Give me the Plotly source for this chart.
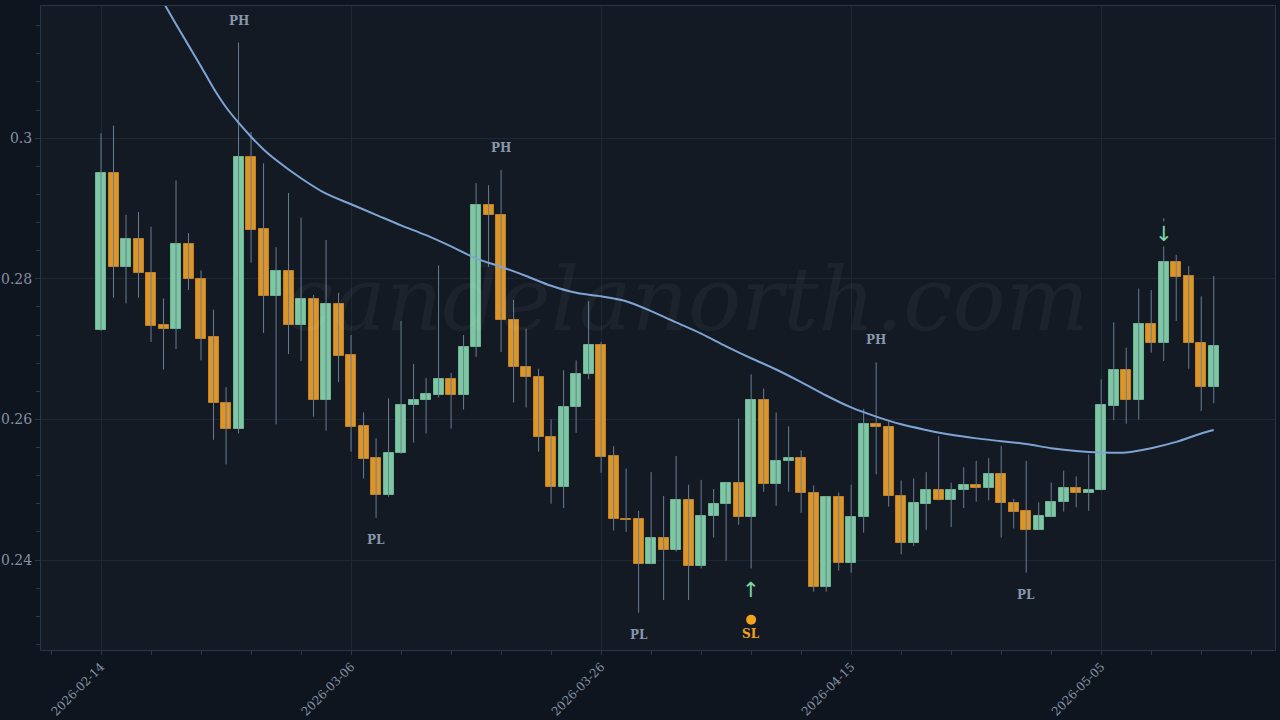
import pandas as pd
import plotly.graph_objects as go

start_date = "2026-02-14"
n_days = 90

opens = [0.2727, 0.2951, 0.2817, 0.2856, 0.2808, 0.2734, 0.2729, 0.2849, 0.2800, 0.2717,
         0.2623, 0.2587, 0.2973, 0.2871, 0.2776, 0.2811, 0.2734, 0.2771, 0.2627, 0.2764,
         0.2691, 0.2590, 0.2545, 0.2492, 0.2552, 0.2621, 0.2627, 0.2635, 0.2658, 0.2635,
         0.2703, 0.2905, 0.2891, 0.2742, 0.2675, 0.2661, 0.2575, 0.2504, 0.2618, 0.2664,
         0.2706, 0.2548, 0.2459, 0.2458, 0.2395, 0.2431, 0.2414, 0.2485, 0.2392, 0.2463,
         0.2479, 0.2509, 0.2461, 0.2627, 0.2508, 0.2541, 0.2545, 0.2496, 0.2361, 0.2489,
         0.2396, 0.2461, 0.2593, 0.2589, 0.2491, 0.2424, 0.2480, 0.2499, 0.2485, 0.2499,
         0.2506, 0.2503, 0.2523, 0.2481, 0.2470, 0.2443, 0.2461, 0.2482, 0.2503, 0.2495,
         0.2499, 0.2619, 0.2670, 0.2627, 0.2736, 0.2708, 0.2824, 0.2804, 0.2709, 0.2646]
highs = [0.3007, 0.3018, 0.2891, 0.2895, 0.2874, 0.2772, 0.2940, 0.2865, 0.2812, 0.2756,
         0.2646, 0.3136, 0.3009, 0.2964, 0.2845, 0.2922, 0.2887, 0.2777, 0.2855, 0.2780,
         0.2720, 0.2610, 0.2573, 0.2630, 0.2740, 0.2679, 0.2659, 0.2819, 0.2666, 0.2720,
         0.2936, 0.2933, 0.2955, 0.2770, 0.2729, 0.2672, 0.2600, 0.2670, 0.2684, 0.2768,
         0.2710, 0.2562, 0.2530, 0.2470, 0.2525, 0.2491, 0.2548, 0.2507, 0.2514, 0.2501,
         0.2510, 0.2601, 0.2664, 0.2644, 0.2610, 0.2590, 0.2556, 0.2506, 0.2491, 0.2496,
         0.2507, 0.2615, 0.2681, 0.2597, 0.2513, 0.2516, 0.2525, 0.2576, 0.2510, 0.2532,
         0.2541, 0.2545, 0.2562, 0.2487, 0.2541, 0.2482, 0.2510, 0.2527, 0.2519, 0.2550,
         0.2657, 0.2738, 0.2702, 0.2786, 0.2784, 0.2886, 0.2834, 0.2818, 0.2775, 0.2804]
lows = [0.2726, 0.2773, 0.2765, 0.2773, 0.2710, 0.2671, 0.2700, 0.2784, 0.2684, 0.2571,
        0.2536, 0.2580, 0.2823, 0.2723, 0.2593, 0.2693, 0.2683, 0.2604, 0.2584, 0.2653,
        0.2554, 0.2516, 0.2460, 0.2490, 0.2551, 0.2567, 0.2580, 0.2631, 0.2587, 0.2614,
        0.2689, 0.2817, 0.2696, 0.2624, 0.2617, 0.2554, 0.2480, 0.2474, 0.2581, 0.2657,
        0.2524, 0.2442, 0.2440, 0.2325, 0.2394, 0.2343, 0.2412, 0.2343, 0.2388, 0.2432,
        0.2399, 0.2450, 0.2388, 0.2497, 0.2477, 0.2497, 0.2467, 0.2355, 0.2355, 0.2385,
        0.2382, 0.2439, 0.2522, 0.2476, 0.2408, 0.2420, 0.2443, 0.2485, 0.2447, 0.2474,
        0.2483, 0.2485, 0.2432, 0.2445, 0.2382, 0.2443, 0.2461, 0.2469, 0.2475, 0.2470,
        0.2499, 0.2599, 0.2594, 0.2600, 0.2695, 0.2683, 0.2740, 0.2672, 0.2612, 0.2623]
closes = [0.2951, 0.2817, 0.2856, 0.2808, 0.2733, 0.2729, 0.2849, 0.2799, 0.2715, 0.2623,
          0.2587, 0.2973, 0.2870, 0.2776, 0.2811, 0.2734, 0.2771, 0.2627, 0.2764, 0.2690,
          0.2589, 0.2544, 0.2492, 0.2552, 0.2621, 0.2627, 0.2636, 0.2658, 0.2635, 0.2703,
          0.2905, 0.2891, 0.2742, 0.2675, 0.2661, 0.2575, 0.2504, 0.2618, 0.2664, 0.2706,
          0.2547, 0.2458, 0.2457, 0.2395, 0.2431, 0.2414, 0.2485, 0.2392, 0.2463, 0.2480,
          0.2509, 0.2461, 0.2627, 0.2508, 0.2541, 0.2545, 0.2496, 0.2361, 0.2489, 0.2396,
          0.2461, 0.2593, 0.2589, 0.2491, 0.2424, 0.2481, 0.2499, 0.2485, 0.2500, 0.2506,
          0.2503, 0.2523, 0.2481, 0.2469, 0.2443, 0.2462, 0.2483, 0.2503, 0.2495, 0.2499,
          0.2620, 0.2670, 0.2627, 0.2736, 0.2708, 0.2824, 0.2803, 0.2708, 0.2646, 0.2705]

# moving average
ma_index = [4, 5, 6, 7, 8, 9, 10, 11, 12, 13, 14, 16, 18, 20, 22, 24, 26, 28, 30, 32, 34, 36,
            38, 40, 42, 44, 46, 48, 50, 52, 54, 56, 58, 60, 62, 64, 66, 68, 70, 72, 74, 76,
            78, 80, 82, 84, 86, 88, 89]
ma_values = [0.3225, 0.3193, 0.3162, 0.3132, 0.3102, 0.3071, 0.3044, 0.3022, 0.3002, 0.2984,
             0.2969, 0.2943, 0.2921, 0.2906, 0.2891, 0.2876, 0.2862, 0.2846, 0.2829, 0.2817,
             0.2804, 0.2790, 0.2780, 0.2775, 0.2768, 0.2754, 0.2738, 0.2722, 0.2704, 0.2687,
             0.2671, 0.2653, 0.2634, 0.2617, 0.2604, 0.2593, 0.2585, 0.2578, 0.2573, 0.2569,
             0.2565, 0.2559, 0.2555, 0.2553, 0.2553, 0.2559, 0.2568, 0.2580, 0.2585]

ph_index = [11, 32, 62]
pl_index = [22, 43, 74]
buy_index = 52
sell_index = 85
sl_value = 0.2315

# ---- styling
PAPER = "#0f151e"
PLOT = "#131a24"
GREEN = "#7cc8a3"
GREEN_EDGE = "#6db491"
ORANGE = "#de9527"
ORANGE_EDGE = "#c28223"
WICK = "#6a7d92"
GRID = "#1c2834"
AXIS = "#28364a"
TICKC = "#8391a4"
LABEL = "#8898ad"
FONT = "DejaVu Serif"

dates = pd.date_range(start_date, periods=n_days, freq="D")
day_ms = 86400000

bases = [min(o, c) for o, c in zip(opens, closes)]
heights = [max(abs(c - o), 0.00015) for o, c in zip(opens, closes)]
up = [c >= o for o, c in zip(opens, closes)]
fill = [GREEN if u else ORANGE for u in up]
edge = [GREEN_EDGE if u else ORANGE_EDGE for u in up]

wx, wy = [], []
for d, h, l in zip(dates, highs, lows):
    wx += [d, d, None]
    wy += [l, h, None]

fig = go.Figure()
fig.add_trace(go.Scatter(x=wx, y=wy, mode="lines", line=dict(color=WICK, width=1),
                         hoverinfo="skip", showlegend=False))
fig.add_trace(go.Bar(x=dates, y=heights, base=bases, width=0.8 * day_ms,
                     marker=dict(color=fill, line=dict(color=edge, width=1)),
                     showlegend=False))
fig.add_trace(go.Scatter(x=[dates[i] for i in ma_index], y=ma_values, mode="lines",
                         line=dict(color="#7ea4d4", width=2, shape="spline", smoothing=0.8),
                         showlegend=False))
fig.add_trace(go.Scatter(x=[dates[buy_index]], y=[sl_value], mode="markers",
                         marker=dict(color="#f4a31f", size=10), showlegend=False))

annotations = []
for i in ph_index:
    annotations.append(dict(x=dates[i], y=highs[i], text="<b>PH</b>", showarrow=False,
                            yshift=22, font=dict(family=FONT, size=12, color=LABEL)))
for i in pl_index:
    annotations.append(dict(x=dates[i], y=lows[i], text="<b>PL</b>", showarrow=False,
                            yshift=-22, font=dict(family=FONT, size=12, color=LABEL)))
annotations.append(dict(x=dates[buy_index], y=lows[buy_index], text="↑", showarrow=False,
                        yshift=-22, bgcolor=PLOT, borderpad=0,
                        font=dict(family="DejaVu Sans", size=21, color="#7fd6aa")))
annotations.append(dict(x=dates[buy_index], y=sl_value, text="<b>SL</b>", showarrow=False,
                        yshift=-14, font=dict(family=FONT, size=12, color="#f4a31f")))
annotations.append(dict(x=dates[sell_index], y=highs[sell_index], text="↓", showarrow=False,
                        yshift=-16, bgcolor=PLOT, borderpad=0,
                        font=dict(family="DejaVu Sans", size=21, color="#7fd6aa")))
annotations.append(dict(x=0.523, y=0.545, xref="paper", yref="paper", text="candelanorth.com",
                        showarrow=False,
                        font=dict(family=FONT, size=88, color="rgba(255,255,255,0.045)",
                                  style="italic")))

x_lo = pd.Timestamp(start_date) - pd.Timedelta(hours=4.8 * 24)
x_hi = pd.Timestamp(start_date) + pd.Timedelta(hours=93.9 * 24)

fig.update_layout(
    width=1280, height=720,
    paper_bgcolor=PAPER, plot_bgcolor=PLOT,
    margin=dict(l=41, r=5, t=6, b=70, autoexpand=False),
    barmode="overlay", bargap=0,
    font=dict(family=FONT, color=TICKC, size=12),
    annotations=annotations,
    showlegend=False,
)
fig.update_xaxes(
    type="date", range=[x_lo, x_hi], automargin=False,
    tick0=start_date, dtick=20 * day_ms, tickformat="%Y-%m-%d", tickangle=-45,
    showgrid=True, gridcolor=GRID, gridwidth=1,
    showline=True, linecolor=AXIS, linewidth=1, mirror=True,
    ticks="outside", ticklen=4, tickcolor=AXIS,
    minor=dict(dtick=4 * day_ms, tick0=start_date, ticks="outside", ticklen=4,
               tickcolor=AXIS, showgrid=False),
    tickfont=dict(family=FONT, size=12, color=TICKC),
    zeroline=False, rangeslider=dict(visible=False),
)
fig.update_yaxes(
    range=[0.2272, 0.3188], dtick=0.02, tick0=0.2, automargin=False,
    showgrid=True, gridcolor=GRID, gridwidth=1,
    showline=True, linecolor=AXIS, linewidth=1, mirror=True,
    ticks="outside", ticklen=5, tickcolor=AXIS,
    minor=dict(dtick=0.004, tick0=0.2, ticks="outside", ticklen=4, tickcolor=AXIS,
               showgrid=False),
    tickfont=dict(family=FONT, size=14, color=TICKC),
    zeroline=False,
)

fig.write_html("out.html")
